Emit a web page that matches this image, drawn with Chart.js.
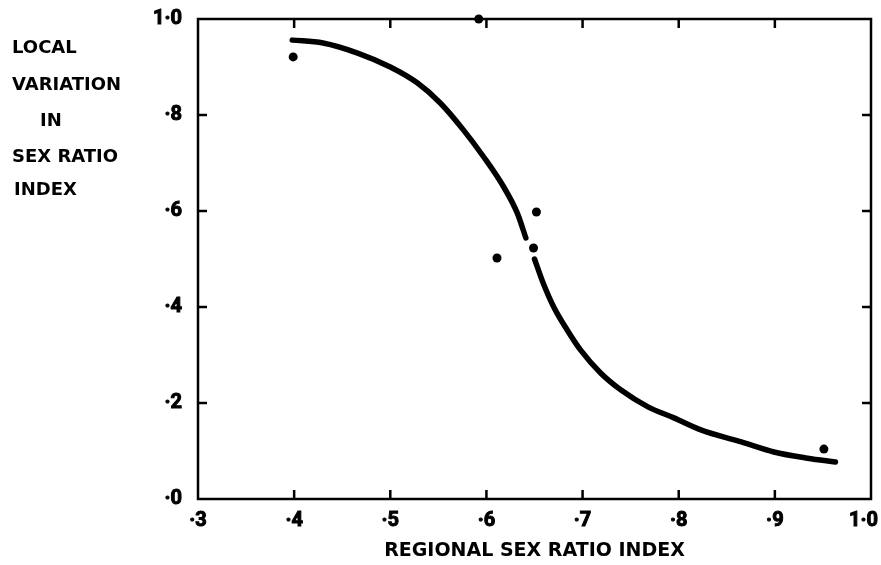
<!DOCTYPE html>
<html>
<head>
<meta charset="utf-8">
<script src="https://cdn.jsdelivr.net/npm/chart.js@4.4.1/dist/chart.umd.min.js"></script>
<style>
  html, body { margin: 0; padding: 0; background: #fff; }
  #wrap { width: 881px; height: 565px; position: relative; }
</style>
</head>
<body>
<div id="wrap"><canvas id="myChart"></canvas></div>
<script>
// observed points
const pointX = [0.399, 0.592, 0.611, 0.652, 0.649, 0.951];
const pointY = [0.921, 1.000, 0.502, 0.598, 0.523, 0.104];

// fitted curve, drawn in two pieces (gap near ·65)
const upperCurveX = [0.398, 0.430, 0.466, 0.500, 0.528, 0.552, 0.576, 0.597, 0.618, 0.632, 0.641];
const upperCurveY = [0.956, 0.950, 0.929, 0.900, 0.867, 0.825, 0.769, 0.713, 0.650, 0.596, 0.544];
const lowerCurveX = [0.650, 0.659, 0.670, 0.684, 0.698, 0.719, 0.740, 0.768, 0.795, 0.823, 0.865, 0.899, 0.934, 0.963];
const lowerCurveY = [0.500, 0.450, 0.400, 0.352, 0.310, 0.262, 0.227, 0.192, 0.169, 0.144, 0.119, 0.098, 0.085, 0.077];

// axis text
const xTitle = 'REGIONAL SEX RATIO INDEX';
const yTitleLines = ['LOCAL', 'VARIATION', 'IN', 'SEX RATIO', 'INDEX'];

const pairs = (xs, ys) => xs.map((x, i) => ({ x: x, y: ys[i] }));
const fmtTick = v => (Math.abs(v - 1) < 1e-6 ? '1·0' : '·' + Math.round(v * 10));

// frame + inward tick marks + left title block
const framePlugin = {
  id: 'frame',
  afterDraw(chart) {
    const { ctx, chartArea: a, scales } = chart;
    ctx.save();
    ctx.strokeStyle = '#000';
    ctx.lineWidth = 2.5;
    ctx.strokeRect(a.left, a.top, a.right - a.left, a.bottom - a.top);
    const len = 9;
    ctx.beginPath();
    scales.x.ticks.forEach(t => {
      const px = scales.x.getPixelForValue(t.value);
      if (px <= a.left + 1 || px >= a.right - 1) return;
      ctx.moveTo(px, a.bottom); ctx.lineTo(px, a.bottom - len);
      ctx.moveTo(px, a.top); ctx.lineTo(px, a.top + len);
    });
    scales.y.ticks.forEach(t => {
      const py = scales.y.getPixelForValue(t.value);
      if (py <= a.top + 1 || py >= a.bottom - 1) return;
      ctx.moveTo(a.left, py); ctx.lineTo(a.left + len, py);
      ctx.moveTo(a.right, py); ctx.lineTo(a.right - len, py);
    });
    ctx.stroke();

    ctx.fillStyle = '#000';
    ctx.font = 'bold 18px "DejaVu Sans"';
    ctx.textBaseline = 'middle';
    ctx.textAlign = 'left';
    const lx = [12, 12, 40, 12, 14];
    const ly = [48, 85, 121, 157, 190];
    yTitleLines.forEach((s, i) => ctx.fillText(s, lx[i], ly[i]));
    ctx.restore();
  }
};

const tickFont = { family: 'Roboto', weight: 'bold', size: 20 };

const ctx = document.getElementById('myChart').getContext('2d');
const chart = new Chart(ctx, {
  type: 'scatter',
  data: {
    datasets: [
      {
        label: 'curve upper',
        data: pairs(upperCurveX, upperCurveY),
        showLine: true,
        borderColor: '#000',
        borderWidth: 5.5,
        borderCapStyle: 'round',
        cubicInterpolationMode: 'monotone',
        pointRadius: 0,
        pointHoverRadius: 0
      },
      {
        label: 'curve lower',
        data: pairs(lowerCurveX, lowerCurveY),
        showLine: true,
        borderColor: '#000',
        borderWidth: 5.5,
        borderCapStyle: 'round',
        cubicInterpolationMode: 'monotone',
        pointRadius: 0,
        pointHoverRadius: 0
      },
      {
        label: 'observed',
        data: pairs(pointX, pointY),
        showLine: false,
        pointRadius: 4.5,
        pointBackgroundColor: '#000',
        pointBorderColor: '#000',
        pointBorderWidth: 0,
        clip: false
      }
    ]
  },
  plugins: [framePlugin],
  options: {
    responsive: true,
    maintainAspectRatio: false,
    animation: false,
    layout: { padding: { top: 19, right: 10, bottom: 0, left: 0 } },
    plugins: {
      legend: { display: false },
      tooltip: { enabled: false }
    },
    scales: {
      x: {
        type: 'linear',
        min: 0.3,
        max: 1.0,
        grid: { display: false, drawTicks: false },
        border: { display: false },
        ticks: {
          stepSize: 0.1,
          color: '#000',
          font: tickFont,
          textStrokeColor: '#000',
          textStrokeWidth: 1,
          padding: 10,
          maxRotation: 0,
          // last label sits a little left of the corner, as in the original
          callback: v => (Math.abs(v - 1) < 1e-6 ? '1·0   ' : fmtTick(v))
        },
        title: {
          display: true,
          text: xTitle,
          color: '#000',
          font: { family: 'DejaVu Sans', weight: 'bold', size: 19 },
          padding: { top: 0, bottom: 3 }
        },
        afterFit(scale) {
          scale.height = 66;
          scale.paddingLeft = 0;
          scale.paddingRight = 0;
        }
      },
      y: {
        type: 'linear',
        min: 0,
        max: 1.0,
        grid: { display: false, drawTicks: false },
        border: { display: false },
        ticks: {
          stepSize: 0.2,
          color: '#000',
          font: tickFont,
          textStrokeColor: '#000',
          textStrokeWidth: 1,
          padding: 16,
          callback: fmtTick
        },
        afterFit(scale) {
          scale.width = 198;
          scale.paddingTop = 0;
          scale.paddingBottom = 0;
        }
      }
    }
  }
});
</script>
</body>
</html>
